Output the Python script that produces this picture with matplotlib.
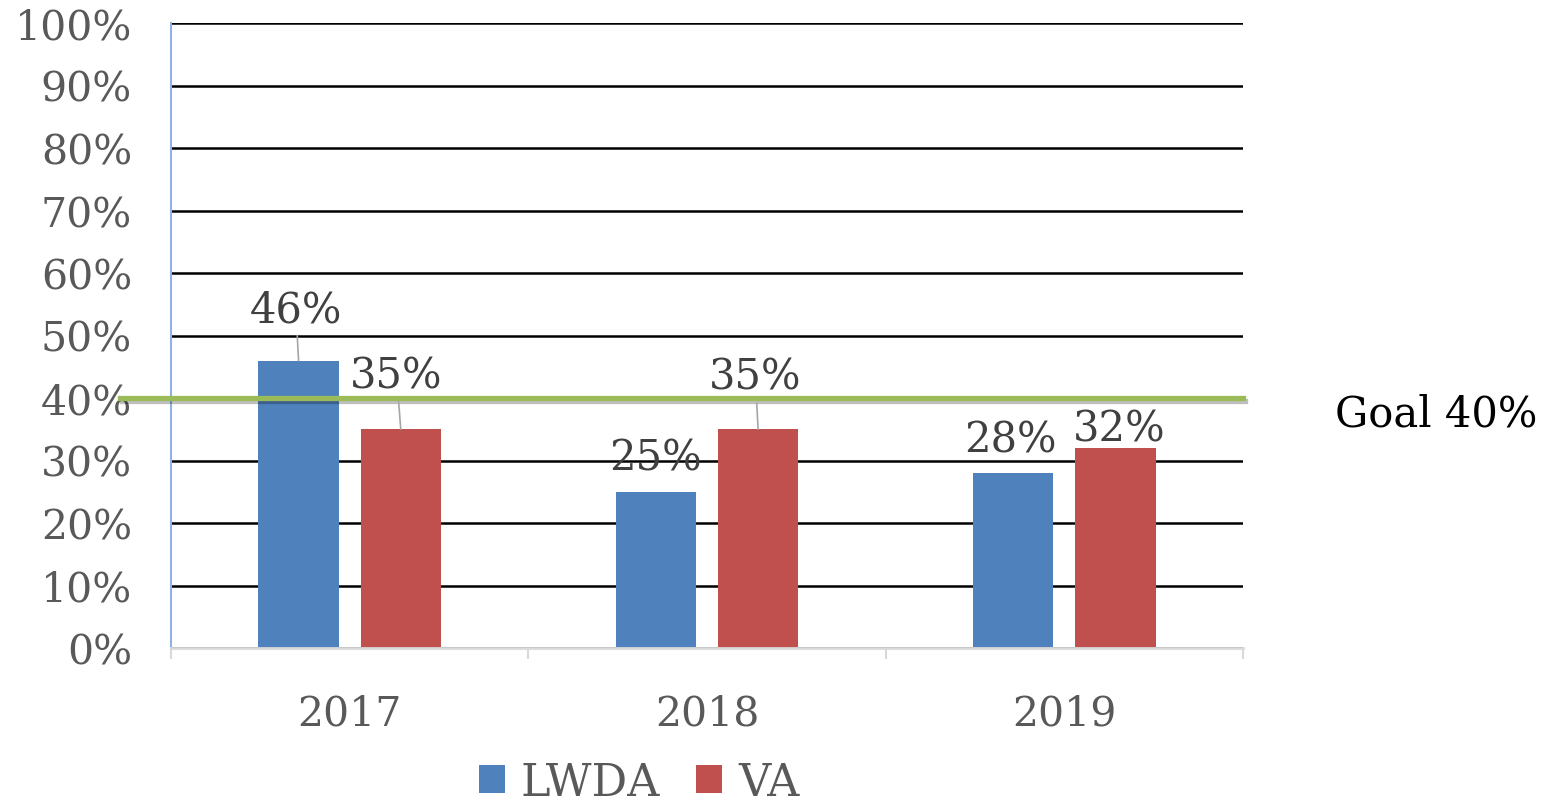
import matplotlib
matplotlib.use("Agg")
import matplotlib.pyplot as plt
import matplotlib.patheffects as pe
import numpy as np

years = ["2017", "2018", "2019"]
lwda = [46, 25, 28]
va = [35, 35, 32]
goal = 40
series_names = ["LWDA", "VA"]
y_ticks = list(range(0, 101, 10))

# label offsets (points) above bar tops: (dx, dy, leader)
lwda_lbl = [(-2, 37, True), (0, 25, False), (-2, 24, False)]
va_lbl = [(-3, 39, True), (-2, 38, True), (3, 14, False)]

BLUE = "#4F81BD"
RED = "#C0504D"
GREEN = "#9BBB59"
FONT = "DejaVu Serif"

fig = plt.figure(figsize=(15.57, 8.04), dpi=100)
ax = fig.add_axes([171/1557, 1-649/804, (1243-171)/1557, (649-24)/804])

x = np.arange(len(years))
w = 0.225
b1 = ax.bar(x - 0.143, lwda, w, color=BLUE, zorder=3, label=series_names[0])
b2 = ax.bar(x + 0.143, va, w, color=RED, zorder=3, label=series_names[1])

ax.set_xlim(-0.5, len(years) - 0.5)
ax.set_ylim(0, 100)
ax.set_yticks(y_ticks)
ax.set_yticklabels([f"{t}%" for t in y_ticks])
ax.yaxis.grid(True, color="black", linewidth=1.8, zorder=0)
ax.set_axisbelow(True)

for s in ["top", "right"]:
    ax.spines[s].set_visible(False)
ax.spines["left"].set_color("#8DB4E2")
ax.spines["left"].set_linewidth(1.5)
ax.spines["bottom"].set_color("#D9D9D9")
ax.spines["bottom"].set_linewidth(2)
ax.spines["bottom"].set_zorder(4)

ax.set_xticks(x)
ax.set_xticklabels(years)
ax.set_xticks(np.arange(-0.5, len(years), 1), minor=True)
ax.tick_params(axis="x", which="major", length=0, pad=33)
ax.tick_params(axis="x", which="minor", length=8, width=1.5, color="#D9D9D9")
ax.tick_params(axis="y", length=0, pad=28)
for lab in ax.get_xticklabels() + ax.get_yticklabels():
    lab.set_fontfamily(FONT)
    lab.set_fontsize(29.5)
    lab.set_color("#595959")

# goal line
ax.axhline(goal, xmin=-51/1072, xmax=1.0, color=GREEN, linewidth=3.8, zorder=5,
           clip_on=False,
           path_effects=[pe.SimpleLineShadow(offset=(1.5, -2), shadow_color="black", alpha=0.25),
                         pe.Normal()])
ax.annotate(f"Goal {goal}%", xy=(1.0, goal), xycoords=("axes fraction", "data"),
            xytext=(66, -11), textcoords="offset points", ha="left", va="center",
            fontsize=30, fontfamily=FONT, color="black", annotation_clip=False)

def label(bars, vals, offs):
    for rect, v, (dx, dy, lead) in zip(bars, vals, offs):
        cx = rect.get_x() + rect.get_width() / 2
        kw = {}
        if lead:
            kw["arrowprops"] = dict(arrowstyle="-", color="#A6A6A6", lw=1.2,
                                    shrinkA=2, shrinkB=0)
        ax.annotate(f"{v}%", xy=(cx, v), xytext=(dx, dy), textcoords="offset points",
                    ha="center", va="center", fontsize=30, fontfamily=FONT,
                    color="#404040", zorder=6, **kw)

label(b1, lwda, lwda_lbl)
label(b2, va, va_lbl)

leg = fig.legend(handles=[b1, b2], labels=series_names, loc="center",
                 bbox_to_anchor=(639/1557, 1-783/804), ncol=2, frameon=False,
                 prop={"family": FONT, "size": 32}, handlelength=0.6, handleheight=0.6,
                 handletextpad=0.35, columnspacing=0.8)
for t in leg.get_texts():
    t.set_color("#595959")

fig.savefig("out.png", dpi=100)
